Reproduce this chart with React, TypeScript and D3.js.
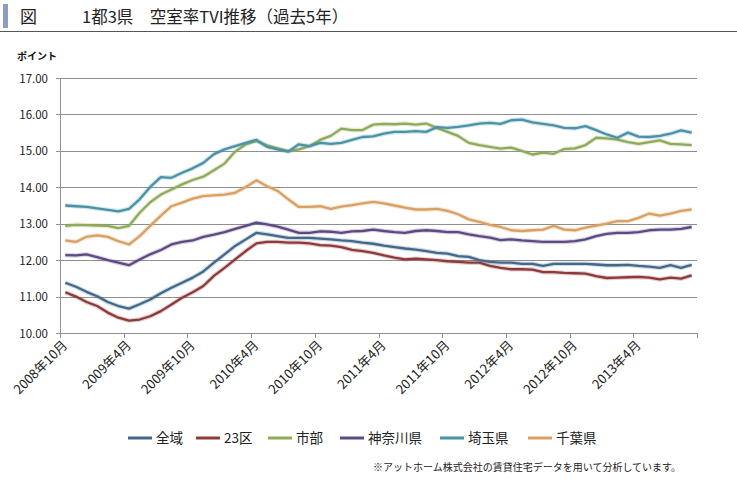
import React from "react";
import * as d3 from "d3";

const months: Date[] = d3.timeMonth.range(new Date(2008, 9, 1), new Date(2013, 9, 1));
const tickLabels = ["2008年10月", "2009年4月", "2009年10月", "2010年4月", "2010年10月", "2011年4月", "2011年10月", "2012年4月", "2012年10月", "2013年4月"];
const yTicks = [10, 11, 12, 13, 14, 15, 16, 17];

const zenniki = [11.38, 11.27, 11.13, 11.01, 10.85, 10.74, 10.67, 10.79, 10.92, 11.09, 11.24, 11.38, 11.52, 11.69, 11.93, 12.16, 12.39, 12.57, 12.75, 12.71, 12.66, 12.61, 12.61, 12.61, 12.59, 12.57, 12.54, 12.52, 12.48, 12.45, 12.40, 12.36, 12.32, 12.29, 12.25, 12.20, 12.18, 12.11, 12.09, 12.00, 11.95, 11.93, 11.93, 11.90, 11.90, 11.84, 11.90, 11.90, 11.90, 11.90, 11.88, 11.86, 11.86, 11.87, 11.84, 11.82, 11.79, 11.86, 11.79, 11.87];
const ku23 = [11.12, 11.00, 10.85, 10.74, 10.56, 10.42, 10.34, 10.37, 10.46, 10.60, 10.78, 10.97, 11.12, 11.29, 11.57, 11.79, 12.02, 12.25, 12.46, 12.50, 12.50, 12.48, 12.48, 12.46, 12.41, 12.40, 12.36, 12.28, 12.25, 12.20, 12.13, 12.07, 12.02, 12.04, 12.02, 12.00, 11.97, 11.95, 11.93, 11.93, 11.84, 11.79, 11.75, 11.75, 11.74, 11.67, 11.67, 11.65, 11.64, 11.63, 11.56, 11.51, 11.52, 11.53, 11.54, 11.52, 11.47, 11.52, 11.49, 11.58];
const shibu = [12.94, 12.97, 12.96, 12.95, 12.94, 12.88, 12.94, 13.30, 13.59, 13.80, 13.94, 14.08, 14.20, 14.29, 14.47, 14.65, 14.98, 15.18, 15.27, 15.15, 15.07, 14.99, 15.04, 15.13, 15.30, 15.41, 15.61, 15.57, 15.57, 15.72, 15.74, 15.73, 15.75, 15.72, 15.75, 15.63, 15.52, 15.41, 15.22, 15.16, 15.11, 15.06, 15.09, 15.00, 14.90, 14.95, 14.92, 15.05, 15.07, 15.16, 15.36, 15.34, 15.31, 15.24, 15.19, 15.24, 15.29, 15.19, 15.18, 15.16];
const kanagawa = [12.14, 12.13, 12.16, 12.08, 12.00, 11.93, 11.86, 12.02, 12.16, 12.28, 12.43, 12.50, 12.54, 12.64, 12.70, 12.77, 12.86, 12.94, 13.03, 12.98, 12.92, 12.84, 12.75, 12.75, 12.79, 12.78, 12.75, 12.79, 12.80, 12.84, 12.80, 12.77, 12.75, 12.80, 12.82, 12.80, 12.77, 12.77, 12.71, 12.66, 12.62, 12.55, 12.57, 12.54, 12.52, 12.50, 12.50, 12.50, 12.52, 12.57, 12.66, 12.72, 12.75, 12.75, 12.77, 12.82, 12.84, 12.84, 12.86, 12.91];
const saitama = [13.50, 13.48, 13.46, 13.42, 13.38, 13.34, 13.41, 13.67, 14.01, 14.28, 14.26, 14.40, 14.52, 14.67, 14.91, 15.04, 15.13, 15.22, 15.30, 15.11, 15.04, 14.98, 15.18, 15.13, 15.22, 15.19, 15.22, 15.30, 15.38, 15.40, 15.47, 15.52, 15.52, 15.54, 15.52, 15.65, 15.63, 15.66, 15.70, 15.75, 15.77, 15.74, 15.84, 15.86, 15.78, 15.74, 15.70, 15.63, 15.62, 15.68, 15.57, 15.45, 15.36, 15.50, 15.39, 15.38, 15.41, 15.47, 15.56, 15.50];
const chiba = [12.54, 12.50, 12.64, 12.68, 12.64, 12.52, 12.43, 12.66, 12.94, 13.22, 13.48, 13.58, 13.69, 13.76, 13.78, 13.80, 13.85, 14.01, 14.19, 14.03, 13.90, 13.67, 13.46, 13.46, 13.48, 13.41, 13.47, 13.51, 13.56, 13.60, 13.56, 13.50, 13.44, 13.39, 13.39, 13.41, 13.35, 13.26, 13.12, 13.05, 12.97, 12.91, 12.82, 12.80, 12.82, 12.84, 12.94, 12.84, 12.82, 12.89, 12.95, 13.00, 13.07, 13.07, 13.16, 13.28, 13.22, 13.28, 13.35, 13.39];

const seriesNames = ["全域", "23区", "市部", "神奈川県", "埼玉県", "千葉県"];
const seriesValues = [zenniki, ku23, shibu, kanagawa, saitama, chiba];
const seriesColors = ["#41698c", "#8e3a3a", "#8fab5a", "#5e4a82", "#4a92a8", "#d9a062"];

const FONT = "'Noto Sans CJK JP', 'Noto Sans', sans-serif";

export default function App() {
  const W = 737, H = 497;
  const left = 60, right = 697, top = 78, bottom = 333;
  const n = months.length;
  const x = d3.scaleLinear().domain([0, n]).range([left, right]);
  const y = d3.scaleLinear().domain([10, 17]).range([bottom, top]);
  const line = d3.line<number>().x((_, i) => x(i + 0.5)).y((v) => y(v));
  const legendX = [128, 196, 268, 340, 440, 528];

  return (
    <svg width={W} height={H} style={{ position: "absolute", left: 0, top: 0, background: "#fff" }} fontFamily={FONT}>
      <rect x={0} y={0} width={W} height={H} fill="#fff" />
      {/* title */}
      <rect x={3} y={4} width={5} height={24} fill="#8d9cc0" />
      <text x={20} y={23} fontSize={17} fill="#222">図</text>
      <text x={82} y={23} fontSize={16.5} fill="#222">1都3県　空室率TVI推移（過去5年）</text>
      <line x1={0} x2={W} y1={31.5} y2={31.5} stroke="#555" strokeWidth={1.2} />
      <text x={17} y={60} fontSize={10} fontWeight="bold" fill="#111">ポイント</text>

      {/* gridlines */}
      {yTicks.map((t) => (
        <g key={t}>
          {t > 10 && <line x1={left} x2={right} y1={Math.round(y(t)) + 0.5} y2={Math.round(y(t)) + 0.5} stroke="#8f8f8f" strokeWidth={1} />}
          <line x1={left - 4} x2={left} y1={Math.round(y(t)) + 0.5} y2={Math.round(y(t)) + 0.5} stroke="#8f8f8f" />
          <text x={48} y={y(t) + 4.5} fontSize={11.5} textAnchor="end" fill="#222">{t.toFixed(2)}</text>
        </g>
      ))}
      {/* axes */}
      <line x1={left + 0.5} x2={left + 0.5} y1={top} y2={bottom} stroke="#8f8f8f" />
      <line x1={left} x2={right} y1={bottom + 0.5} y2={bottom + 0.5} stroke="#8f8f8f" />
      {d3.range(0, n + 1, 6).map((k) => (
        <line key={k} x1={Math.round(x(k)) + 0.5} x2={Math.round(x(k)) + 0.5} y1={bottom} y2={bottom + 5} stroke="#8f8f8f" />
      ))}
      {tickLabels.map((lab, k) => {
        const cx = x(k * 6 + 0.5) + 3;
        const cy = bottom + 13;
        return (
          <text key={lab} x={cx} y={cy} fontSize={13} textAnchor="end" fill="#222" transform={`rotate(-45 ${cx} ${cy})`}>
            {lab}
          </text>
        );
      })}

      {/* series */}
      {seriesValues.map((vals, si) => (
        <g key={seriesNames[si]}>
          <path d={line(vals) || ""} fill="none" stroke={seriesColors[si]} strokeOpacity={0.25} strokeWidth={4.5} strokeLinejoin="round" />
          <path d={line(vals) || ""} fill="none" stroke={seriesColors[si]} strokeWidth={2.3} strokeLinejoin="round" />
        </g>
      ))}

      {/* legend */}
      {seriesNames.map((name, si) => (
        <g key={name}>
          <line x1={legendX[si]} x2={legendX[si] + 24} y1={438} y2={438} stroke={seriesColors[si]} strokeWidth={3} />
          <text x={legendX[si] + 28} y={443} fontSize={13.5} fill="#222">{name}</text>
        </g>
      ))}

      <text x={373} y={471} fontSize={10} fill="#222">※アットホーム株式会社の賃貸住宅データを用いて分析しています。</text>
    </svg>
  );
}
